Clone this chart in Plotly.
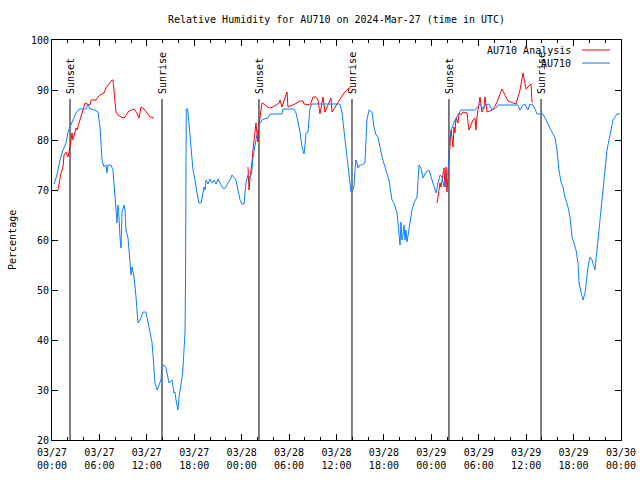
import pandas as pd
import plotly.graph_objects as go

BASE = pd.Timestamp("2024-03-27 00:00")

# AU710 observed (hours since 03/27 00:00 UTC, % RH)
obs_hours = [0.25, 0.63, 1.01, 1.39, 1.77, 2.02, 2.28, 2.66, 3.04, 3.42, 4.30, 4.56, 4.81, 5.44, 5.82,
             6.07, 6.20, 6.33, 6.58, 6.83, 6.96, 7.09, 7.47, 7.72, 7.97, 8.10, 8.23, 8.35, 8.48, 8.60,
             8.73, 8.86, 9.11, 9.24, 9.36, 9.62, 9.87, 10.00, 10.12, 10.38, 10.63, 10.76, 10.88, 11.14,
             11.52, 11.89, 12.15, 12.40, 12.65, 12.78, 12.91, 13.03, 13.29, 13.54, 13.79, 13.92, 14.17,
             14.43, 14.55, 14.68, 14.81, 14.93, 15.18, 15.44, 15.56, 15.69, 15.82, 15.94, 16.07, 16.32,
             16.45, 16.58, 16.70, 16.83, 16.89, 16.92, 16.99, 17.17, 17.25, 17.34, 17.46, 17.59, 17.72,
             17.84, 17.97, 18.10, 18.22, 18.35, 18.60, 18.85, 18.98, 19.11, 19.23, 19.36, 19.49, 19.74,
             19.99, 20.25, 20.50, 20.75, 21.01, 21.26, 21.51, 21.76, 22.02, 22.27, 22.52, 22.78, 23.03,
             23.28, 23.54, 23.79, 24.04, 24.30, 24.42, 24.55, 24.80, 25.05, 25.18, 25.31, 25.43, 25.56,
             25.81, 26.06, 26.32, 26.57, 26.83, 27.33, 27.59, 29.10, 29.23, 30.62, 30.88, 31.13, 31.38,
             31.64, 31.76, 31.89, 32.01, 32.14, 32.39, 32.52, 32.65, 32.90, 36.44, 36.70, 36.95, 37.20,
             37.45, 37.58, 37.71, 37.83, 37.96, 38.21, 38.34, 38.46, 38.59, 38.72, 38.97, 39.22, 39.60,
             39.72, 39.85, 40.11, 40.49, 40.74, 41.00, 41.25, 41.76, 42.14, 42.64, 43.02, 43.28, 43.66,
             43.91, 44.04, 44.16, 44.29, 44.41, 44.54, 44.67, 44.79, 44.92, 45.17, 45.55, 45.81, 46.19,
             46.44, 46.69, 46.95, 47.33, 47.70, 47.96, 48.34, 48.59, 48.84, 49.10, 49.35, 49.60, 49.86,
             50.11, 50.23, 50.36, 50.62, 50.99, 51.37, 51.75, 53.53, 54.16, 54.54, 54.79, 55.30, 55.68,
             56.18, 56.44, 58.59, 58.97, 59.22, 59.60, 59.85, 60.23, 60.48, 60.86, 61.12, 61.37, 62.13,
             62.51, 62.89, 63.40, 63.65, 63.90, 64.15, 64.41, 64.66, 64.91, 65.29, 65.55, 65.80, 66.05,
             66.31, 66.56, 66.69, 66.94, 67.19, 67.45, 67.70, 67.82, 68.08, 68.33, 68.71, 68.96, 69.21,
             69.47, 69.72, 69.97, 70.23, 70.48, 70.73, 70.99, 71.49, 71.87]
obs_rh = [71.2, 73.0, 76.0, 78.0, 79.4, 81.6, 82.6, 84.0, 85.4, 86.2, 86.2, 87.2, 86.2, 86.0, 85.6,
          82.6, 78.6, 76.0, 74.6, 75.0, 73.4, 75.0, 75.0, 74.0, 68.6, 65.0, 63.4, 67.0, 64.6, 60.6,
          58.4, 65.6, 67.0, 66.0, 62.0, 60.4, 54.6, 53.0, 54.6, 52.6, 48.6, 46.0, 43.4, 44.0,
          45.6, 45.6, 43.4, 42.0, 39.6, 37.0, 34.0, 31.4, 30.0, 31.0, 32.0, 34.6, 35.0,
          34.4, 33.4, 32.0, 31.4, 31.6, 32.0, 29.4, 29.6, 28.0, 26.6, 26.0, 28.6, 30.6,
          32.4, 34.6, 37.4, 41.4, 50.6, 74.4, 86.2, 86.2, 84.6, 82.6, 80.0, 78.4, 76.6,
          74.0, 73.0, 72.0, 70.6, 69.4, 67.4, 67.4, 68.4, 69.4, 70.6, 70.0, 72.0, 71.2,
          72.2, 71.4, 72.0, 71.2, 72.2, 71.4, 70.6, 70.2, 70.6, 71.4, 72.0, 73.0, 72.4,
          72.0, 70.0, 68.0, 67.2, 67.2, 69.4, 71.4, 73.0, 72.4, 73.0, 74.0, 76.5, 78.0,
          80.0, 82.0, 83.4, 84.0, 84.2, 84.4, 85.2, 85.2, 86.2, 86.2, 85.4, 83.6, 81.6,
          78.6, 77.6, 77.2, 79.0, 81.4, 81.6, 84.0, 86.4, 87.2, 87.2, 85.4, 82.0, 78.6,
          75.4, 73.6, 71.6, 69.6, 69.6, 70.6, 74.0, 76.0, 75.4, 74.4, 75.0, 75.0, 75.4,
          80.0, 84.0, 86.0, 85.6, 82.6, 81.0, 80.6, 76.6, 74.6, 72.0, 68.0, 67.4, 65.4,
          62.0, 59.0, 63.6, 60.0, 61.0, 63.0, 60.0, 62.0, 59.6, 62.6, 66.0, 67.4, 68.6,
          75.0, 74.4, 72.4, 73.6, 74.0, 72.6, 70.6, 69.4, 71.4, 73.0, 72.6, 70.6, 72.6,
          73.4, 76.6, 80.6, 82.4, 84.0, 85.0, 86.0, 86.0, 87.2, 86.2, 87.0, 87.2, 86.0,
          86.4, 87.0, 87.0, 87.0, 86.0, 87.0, 87.2, 86.0, 87.2, 87.0, 86.2, 85.2, 85.2,
          84.0, 83.0, 81.4, 80.4, 78.0, 74.0, 71.6, 70.6, 68.6, 66.6, 64.6, 60.6, 59.4,
          58.0, 55.4, 51.4, 49.6, 48.0, 49.4, 54.0, 54.6, 56.6, 56.0, 54.0, 58.0, 62.0,
          65.4, 70.6, 74.0, 78.0, 80.0, 82.0, 84.0, 85.2, 85.2]

# AU710 Analysis (three separate runs)
ana1_hours = [0.76, 1.01, 1.14, 1.39, 1.52, 1.77, 2.02, 2.28, 2.40, 2.53, 2.66, 2.91, 3.04, 3.16, 3.42,
              3.67, 3.92, 4.18, 4.43, 4.81, 4.94, 5.57, 5.82, 6.07, 6.58, 6.83, 7.09, 7.34, 7.59, 7.72,
              7.97, 8.10, 8.35, 8.73, 9.11, 9.36, 9.74, 10.38, 10.76, 11.01, 11.26, 11.64, 12.02, 12.40, 12.91]
ana1_rh = [70.0, 72.0, 73.4, 74.6, 77.0, 77.6, 76.6, 78.6, 80.4, 81.4, 80.0, 81.6, 82.4, 82.0, 83.4,
           84.6, 86.0, 87.4, 87.2, 87.0, 88.0, 88.0, 88.6, 89.0, 89.4, 90.4, 91.0, 91.6, 92.0, 92.0,
           88.0, 85.6, 85.0, 84.6, 84.4, 85.0, 85.8, 86.2, 85.4, 84.4, 86.6, 86.2, 85.4, 84.6, 84.4]
ana2_hours = [24.80, 24.84, 24.93, 25.05, 25.18, 25.31, 25.43, 25.56, 25.69, 25.81, 25.94, 26.06, 26.19,
              26.32, 26.45, 26.57, 26.83, 27.08, 27.59, 27.96, 28.34, 28.72, 28.85, 29.10, 29.48, 29.74,
              29.86, 30.24, 30.75, 31.38, 31.76, 31.89, 32.65, 32.90, 33.03, 33.41, 33.66, 33.91, 34.29,
              34.54, 34.92, 35.30, 35.43, 35.81, 36.19, 36.57, 36.95, 37.33, 37.58, 37.83]
ana2_rh = [74.6, 72.6, 70.0, 72.4, 73.6, 75.6, 78.0, 80.0, 82.0, 83.4, 81.4, 79.6, 83.0,
           85.0, 87.0, 87.4, 87.2, 86.8, 86.4, 86.6, 87.0, 87.4, 88.0, 86.6, 88.4, 89.6,
           86.6, 86.8, 87.2, 87.8, 87.8, 87.2, 87.0, 88.0, 88.6, 88.6, 88.0, 85.2, 88.6,
           85.6, 87.0, 88.4, 85.6, 86.6, 87.4, 88.4, 89.4, 90.0, 90.4, 90.4]
ana3_hours = [48.72, 48.84, 49.10, 49.22, 49.35, 49.48, 49.60, 49.73, 49.86, 49.98, 50.11, 50.23, 50.36,
              50.49, 50.62, 50.74, 50.87, 50.99, 51.12, 51.37, 51.50, 51.75, 52.01, 52.51, 52.76, 53.02,
              53.27, 53.53, 53.65, 53.78, 54.03, 54.16, 54.41, 54.67, 54.79, 55.05, 55.68, 56.06, 56.31,
              56.94, 57.70, 58.71, 59.22, 59.60, 59.98, 60.61, 60.74, 60.86]
ana3_rh = [67.4, 68.6, 71.4, 70.6, 72.0, 73.6, 74.4, 70.6, 74.6, 69.6, 73.4, 75.4, 79.4,
           82.0, 80.4, 78.6, 82.6, 81.4, 84.4, 83.4, 85.4, 85.0, 85.6, 85.4, 82.0, 83.0,
           84.0, 84.4, 82.0, 84.6, 87.0, 88.6, 85.6, 86.4, 88.6, 85.6, 86.0, 86.8, 87.6,
           90.2, 87.8, 87.2, 90.0, 93.4, 90.2, 91.2, 87.6, 87.6]

# Sunset / sunrise events
event_hours = [2.28, 13.92, 26.19, 37.96, 50.23, 61.88]
event_names = ["Sunset", "Sunrise", "Sunset", "Sunrise", "Sunset", "Sunrise"]
event_line_top = 88.2

tick_hours = list(range(0, 73, 6))
tick_labels = ["03/27<br>00:00", "03/27<br>06:00", "03/27<br>12:00", "03/27<br>18:00",
               "03/28<br>00:00", "03/28<br>06:00", "03/28<br>12:00", "03/28<br>18:00",
               "03/29<br>00:00", "03/29<br>06:00", "03/29<br>12:00", "03/29<br>18:00",
               "03/30<br>00:00"]

RED = "#ff0000"
BLUE = "#0a7fff"
FONT = "DejaVu Sans Mono"


def t(hours):
    return [None if h is None else BASE + pd.Timedelta(hours=h) for h in hours]


ana_x = t(ana1_hours) + [None] + t(ana2_hours) + [None] + t(ana3_hours)
ana_y = ana1_rh + [None] + ana2_rh + [None] + ana3_rh

ev_x, ev_y = [], []
for h in event_hours:
    ev_x += [BASE + pd.Timedelta(hours=h)] * 2 + [None]
    ev_y += [20, event_line_top, None]

fig = go.Figure()
fig.add_trace(go.Scatter(x=ev_x, y=ev_y, mode="lines", line=dict(color="black", width=1),
                         hoverinfo="skip", showlegend=False))
fig.add_trace(go.Scatter(x=ana_x, y=ana_y, mode="lines", name="AU710 Analysis",
                         line=dict(color=RED, width=1), showlegend=False))
fig.add_trace(go.Scatter(x=t(obs_hours), y=obs_rh, mode="lines", name="AU710",
                         line=dict(color=BLUE, width=1), showlegend=False))

for h, name in zip(event_hours, event_names):
    fig.add_annotation(x=BASE + pd.Timedelta(hours=h), y=event_line_top, yshift=3,
                       text=name, textangle=-90, showarrow=False,
                       xanchor="center", yanchor="bottom",
                       font=dict(family=FONT, size=10, color="black"))

# manual legend (text left of sample, as in the original)
legend_rows = [("AU710 Analysis", RED, 0.975), ("AU710", BLUE, 0.9425)]
for name, col, yp in legend_rows:
    fig.add_annotation(x=0.9156, y=yp, xref="paper", yref="paper", text=name,
                       showarrow=False, xanchor="right", yanchor="middle",
                       font=dict(family=FONT, size=10, color="black"))
    fig.add_shape(type="line", xref="paper", yref="paper", x0=0.9315, x1=0.9807,
                  y0=yp, y1=yp, line=dict(color=col, width=1))

fig.add_annotation(x=-0.0703, y=0.5, xref="paper", yref="paper", text="Percentage",
                   textangle=-90, showarrow=False, xanchor="center", yanchor="middle",
                   font=dict(family=FONT, size=10, color="black"))

fig.update_layout(
    width=640, height=480,
    margin=dict(l=52, r=19, t=40, b=40, autoexpand=False),
    paper_bgcolor="white", plot_bgcolor="white",
    font=dict(family=FONT, size=10, color="black"),
    title=dict(text="Relative Humidity for AU710 on 2024-Mar-27 (time in UTC)",
               x=0.5, xref="paper", xanchor="center", y=0.9604, yanchor="middle",
               font=dict(family=FONT, size=10, color="black")),
    showlegend=False,
)
fig.update_xaxes(
    type="date", automargin=False,
    range=[BASE, BASE + pd.Timedelta(hours=72)],
    tickvals=[BASE + pd.Timedelta(hours=h) for h in tick_hours],
    ticktext=tick_labels,
    ticks="inside", ticklen=6, tickwidth=1, tickcolor="black",
    ticklabelstandoff=3,
    minor=dict(ticks="inside", ticklen=3, tickwidth=1, tickcolor="black",
               dtick=2 * 3600 * 1000, tick0=BASE, showgrid=False),
    showline=True, linecolor="black", linewidth=1, mirror="ticks",
    showgrid=False, zeroline=False,
    tickfont=dict(family=FONT, size=10, color="black"),
)
fig.update_yaxes(
    range=[20, 100], dtick=10, tick0=20, automargin=False,
    ticks="inside", ticklen=6, tickwidth=1, tickcolor="black",
    showline=True, linecolor="black", linewidth=1, mirror="ticks",
    showgrid=False, zeroline=False,
    tickfont=dict(family=FONT, size=10, color="black"),
)

fig.write_html("out.html", config={"displayModeBar": False},
               post_script="document.body.style.margin='0';document.body.style.padding='0';")
